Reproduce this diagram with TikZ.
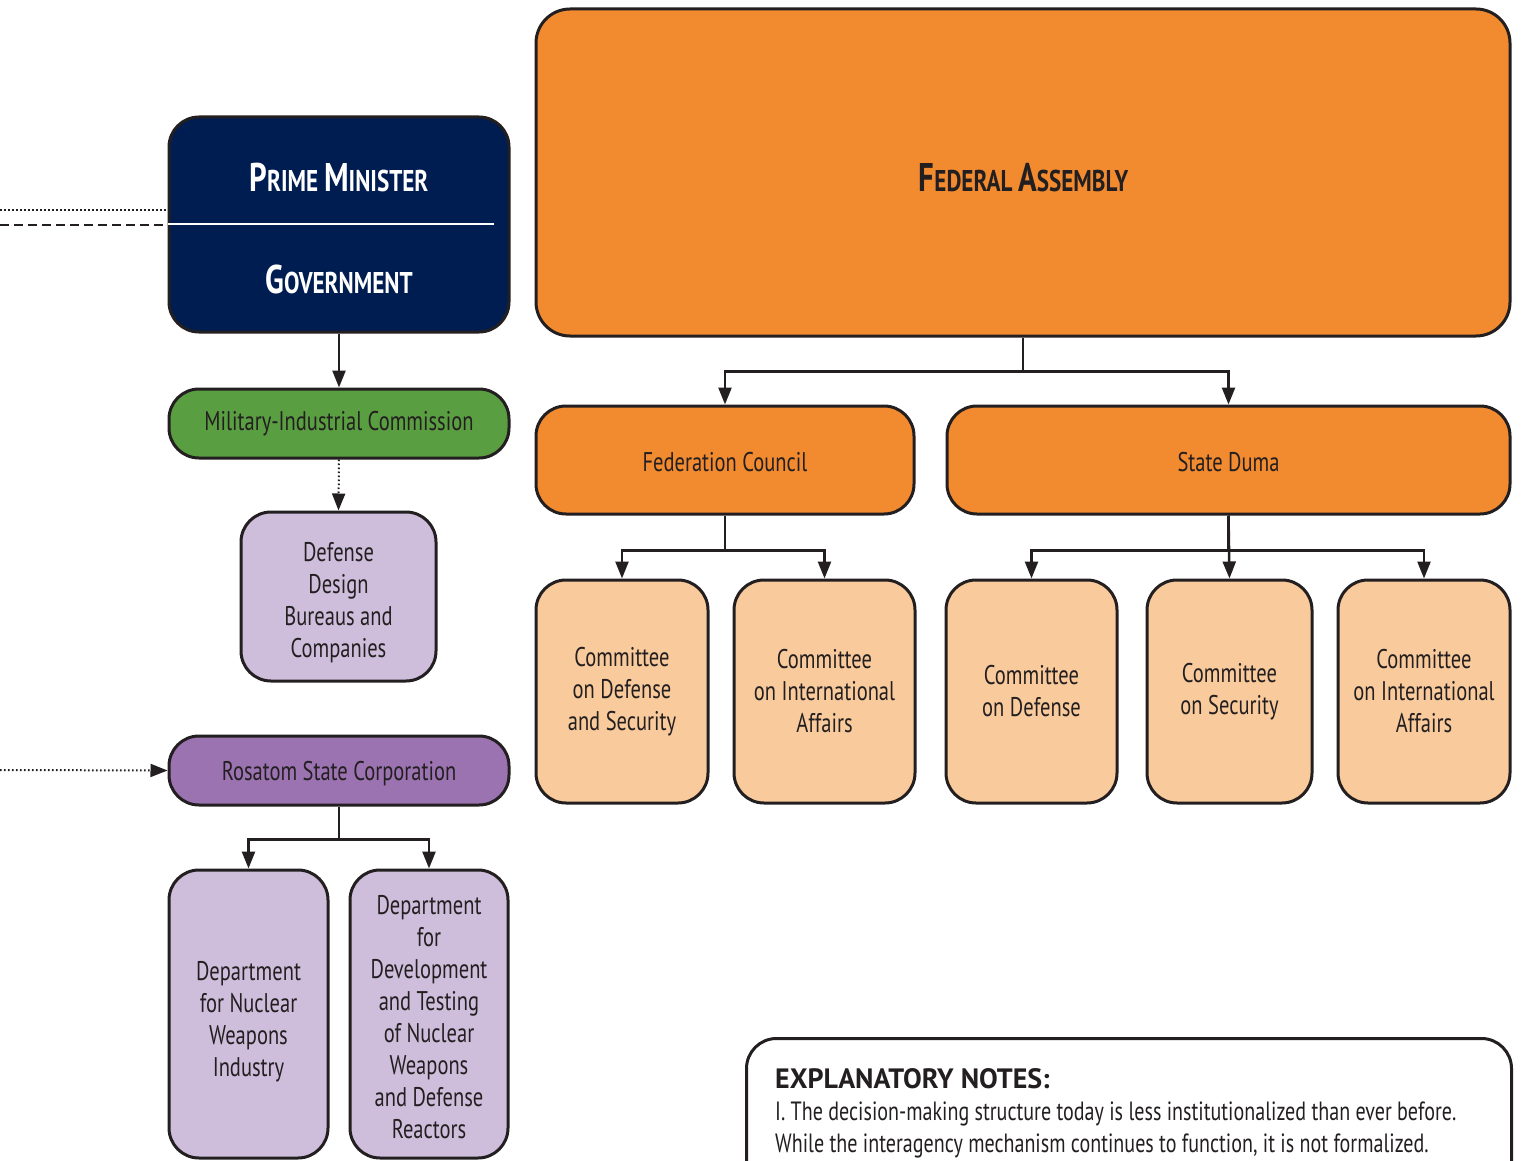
\documentclass[tikz,border=0pt]{standalone}
\usepackage{fontspec}
\setmainfont{PT Sans}[FakeStretch=0.76]
\newfontfamily\titlefont{PT Sans}[FakeStretch=0.77]
\newfontfamily\notesfont{PT Sans}[FakeStretch=1.0]
\usetikzlibrary{arrows.meta}
\definecolor{outl}{HTML}{231F20}
\definecolor{navy}{HTML}{001D52}
\definecolor{mgreen}{HTML}{5A9E42}
\definecolor{lav}{HTML}{CEBEDC}
\definecolor{purp}{HTML}{9B73B1}
\definecolor{orng}{HTML}{F28A30}
\definecolor{peach}{HTML}{F9CA9C}
\newcommand{\BigL}[1]{{\fontsize{40}{40}\selectfont #1}}
\newcommand{\SmL}[1]{{\fontsize{30}{30}\selectfont #1}}
\tikzset{
  box/.style={draw=outl, line width=3pt, rounded corners=30pt, inner sep=0pt, align=center,
    font=\fontsize{27}{32}\selectfont, text=outl},
  boxtext/.style={inner sep=0pt, align=center, font=\fontsize{27}{32}\selectfont, text=outl},
  arr/.style={draw=outl, line width=2.5pt, -{Triangle[length=17pt,width=13pt]}},
  dotarr/.style={arr, line width=2pt, dash pattern=on 1.6pt off 2.4pt},
  dotln/.style={draw=outl, line width=2pt, dash pattern=on 1.6pt off 2.4pt},
  dashln/.style={draw=outl, line width=2.5pt, dash pattern=on 9pt off 5pt},
  ttl/.style={font=\titlefont\bfseries, inner sep=0pt},
}
\begin{document}
\begin{tikzpicture}[x=1pt,y=-1pt]
\useasboundingbox (0,0) rectangle (1521,1161);
% left column
\node[box, fill=navy, minimum width=340pt, minimum height=215pt] (pm) at (339,224.5) {};
\draw[white, line width=2pt] (pm.west) -- ++(326,0);
\node[ttl, text=white] (pmt) at (339,178) {\BigL{P}\SmL{RIME\ }\BigL{M}\SmL{INISTER}};
\node[ttl, text=white] (gov) at (339,279) {\BigL{G}\SmL{OVERNMENT}};
\node[box, fill=mgreen, minimum width=340pt, minimum height=69pt] (mic) at (339,423.5) {Military-Industrial Commission};
\node[box, fill=lav, minimum width=195pt, minimum height=169pt] (ddb) at (338.5,596.5) {};
\node[boxtext] (ddbt) at ([yshift=-6pt]ddb.center) {Defense\\Design\\Bureaus and\\Companies};
\node[box, fill=purp, minimum width=340pt, minimum height=69pt] (ros) at (339,770.5) {};
\node[boxtext] (rost) at ([yshift=-3pt]ros.center) {Rosatom State Corporation};
\node[box, fill=lav, minimum width=159pt, minimum height=288pt] (dn1) at (248.5,1014) {};
\node[boxtext] (dn1t) at ([yshift=-8pt]dn1.center) {Department\\for Nuclear\\Weapons\\Industry};
\node[box, fill=lav, minimum width=158pt, minimum height=288pt] (dn2) at (429,1014) {};
\node[boxtext] (dn2t) at ([yshift=-3pt]dn2.center) {Department\\for\\Development\\and Testing\\of Nuclear\\Weapons\\and Defense\\Reactors};
% right side
\node[box, fill=orng, rounded corners=34pt, minimum width=974pt, minimum height=327pt] (fa) at (1023,172.5) {};
\node[ttl, text=outl] (fat) at (1023.5,178) {\BigL{F}\SmL{EDERAL\ }\BigL{A}\SmL{SSEMBLY}};
\node[box, fill=orng, minimum width=378pt, minimum height=108pt] (fc) at (725,460) {};
\node[boxtext] (fct) at ([yshift=-2pt]fc.center) {Federation Council};
\node[box, fill=orng, minimum width=563pt, minimum height=108pt] (sd) at (1228.5,460) {};
\node[boxtext] (sdt) at ([yshift=-2pt]sd.center) {State Duma};
\node[box, fill=peach, minimum width=172pt, minimum height=223pt] (c1) at (622,691.5) {Committee\\on Defense\\and Security};
\node[box, fill=peach, minimum width=181pt, minimum height=223pt] (c2) at (824.5,691.5) {Committee\\on International\\Affairs};
\node[box, fill=peach, minimum width=171pt, minimum height=223pt] (c3) at (1031.5,691.5) {Committee\\on Defense};
\node[box, fill=peach, minimum width=165pt, minimum height=223pt] (c4) at (1229.5,691.5) {Committee\\on Security};
\node[box, fill=peach, minimum width=172pt, minimum height=223pt] (c5) at (1424,691.5) {Committee\\on International\\Affairs};
% notes
\begin{scope}
\clip (0,0) rectangle (1521,1161);
\node[box, fill=white, anchor=north west, minimum width=765pt, minimum height=200pt] (notes) at (745,1037) {};
\end{scope}
\node[anchor=north west, inner sep=0pt, align=left, text=outl, font=\fontsize{26.4}{32}\selectfont] (notest) at (775,1068)
  {{\notesfont\bfseries\fontsize{28}{32}\selectfont EXPLANATORY NOTES:}\\
   I. The decision-making structure today is less institutionalized than ever before.\\
   While the interagency mechanism continues to function, it is not formalized.};
% connectors
\draw[arr] (pm.south) -- (mic.north);
\draw[dotarr] (mic.south) -- (ddb.north);
\draw[arr] (ros.south) -- ++(0,33) -| (dn1.north);
\draw[arr] (ros.south) -- ++(0,33) -| (dn2.north);
\draw[arr] (fa.south) -- ++(0,34) -| (fc.north);
\draw[arr] (fa.south) -- ++(0,34) -| (sd.north);
\draw[arr] (fc.south) -- ++(0,35) -| (c1.north);
\draw[arr] (fc.south) -- ++(0,35) -| (c2.north);
\draw[arr] (sd.south) -- ++(0,35) -| (c3.north);
\draw[arr] (sd.south) -- (c4.north);
\draw[arr] (sd.south) -- ++(0,35) -| (c5.north);
\coordinate (ld1) at (0,210);
\coordinate (ld2) at (0,225);
\coordinate (ld3) at (0,770);
\draw[dotln] (ld1) -- (ld1 -| pm.west);
\draw[dashln] (ld2) -- (ld2 -| pm.west);
\draw[dotarr] (ld3) -- (ros.west);
\end{tikzpicture}
\end{document}
